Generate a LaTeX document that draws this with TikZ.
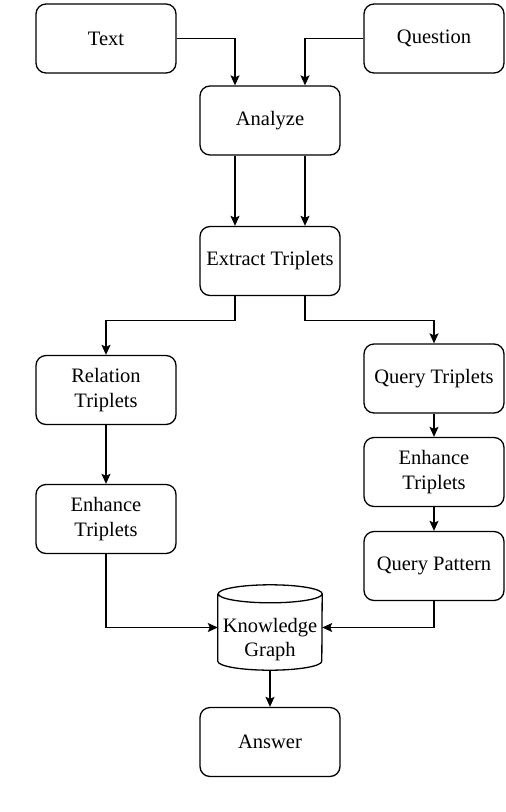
\documentclass[tikz,border=0pt]{standalone}
\usepackage{fontspec}
\setmainfont{Liberation Serif}
\usetikzlibrary{arrows.meta}
\tikzset{
  stepbox/.style={draw, line width=1.3pt, rounded corners=10pt, minimum width=140pt,
    minimum height=69pt, align=center, inner sep=2pt,
    font=\fontsize{20.5}{24.5}\selectfont},
  flow/.style={line width=1.3pt, -{Stealth[length=10pt,width=9pt,inset=2pt]}},
}
\begin{document}
\begin{tikzpicture}[x=1pt,y=-1pt]
            \useasboundingbox (0,0) rectangle (506,812);
            % top row
            \node[stepbox] (text) at (106,38.5) {Text};
            \node[stepbox] (question) at (434,38.5) {Question};
            \node[stepbox] (analyze) at (270,120.5) {Analyze};
            \node[stepbox] (extract) at (270,261) {Extract Triplets};
            % left branch
            \node[stepbox] (relation) at (106,390) {Relation\\Triplets};
            \node[stepbox] (enhleft) at (106,519) {Enhance\\Triplets};
            % right branch
            \node[stepbox] (querytrip) at (434,378.5) {Query Triplets};
            \node[stepbox] (enhright) at (434,472) {Enhance\\Triplets};
            \node[stepbox] (pattern) at (434,566) {Query Pattern};
            % knowledge graph (cylinder)
            \node[minimum width=104pt, minimum height=85pt, inner sep=0pt] (kg) at (270,627.5) {};
            \draw[line width=1.3pt] ([yshift=-9pt]kg.north west) -- ([yshift=9pt]kg.south west)
                arc[start angle=180, end angle=360, x radius=52pt, y radius=9pt]
                -- ([yshift=-9pt]kg.north east)
                arc[start angle=0, end angle=180, x radius=52pt, y radius=9pt]
                arc[start angle=180, end angle=360, x radius=52pt, y radius=9pt];
            \node[align=center, font=\fontsize{20.5}{24.5}\selectfont] (kglabel) at ([yshift=-12pt]kg.center) {Knowledge\\Graph};
            \node[stepbox] (answer) at (270,742) {Answer};
            % connectors
            \draw[flow] (text.east) -| ([xshift=-35pt]analyze.north);
            \draw[flow] (question.west) -| ([xshift=35pt]analyze.north);
            \draw[flow] ([xshift=-35pt]analyze.south) -- ([xshift=-35pt]extract.north);
            \draw[flow] ([xshift=35pt]analyze.south) -- ([xshift=35pt]extract.north);
            \draw[flow] ([xshift=-35pt]extract.south) -- ++(0,24) -| (relation.north);
            \draw[flow] ([xshift=35pt]extract.south) -- ++(0,24) -| (querytrip.north);
            \draw[flow] (relation) -- (enhleft);
            \draw[flow] (querytrip) -- (enhright);
            \draw[flow] (enhright) -- (pattern);
            \draw[flow] (enhleft.south) |- (kg.west);
            \draw[flow] (pattern.south) |- (kg.east);
            \draw[flow] (kg.south) -- (answer.north);
\end{tikzpicture}
\end{document}
